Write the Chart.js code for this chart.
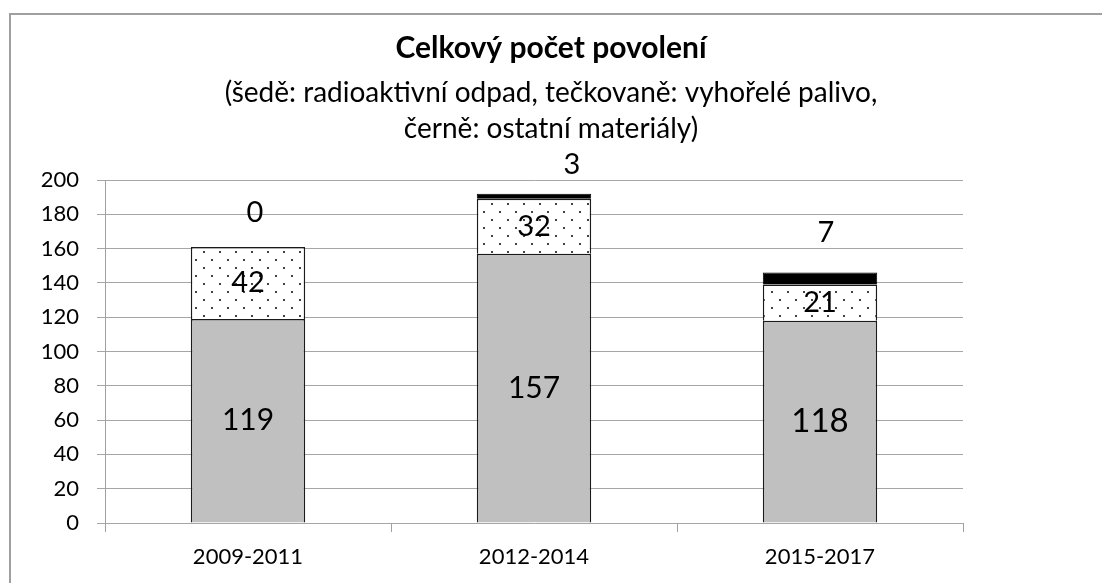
<!DOCTYPE html>
<html lang="cs">
<head>
  <meta charset="UTF-8">
  <title>Celkový počet povolení</title>
  <script src="https://cdn.jsdelivr.net/npm/chart.js"></script>
  <style>
    body {
      margin: 0;
      background-color: #fff;
    }
    canvas {
      display: block;
    }
  </style>
</head>
<body>
  <canvas id="permitChart" width="1102" height="583"></canvas>

  <script>
    // data
    const periods = ['2009-2011', '2012-2014', '2015-2017'];
    const radioactiveWaste = [119, 157, 118];   // šedě
    const spentFuel = [42, 32, 21];              // tečkovaně
    const otherMaterials = [0, 3, 7];            // černě
    const yTicks = [0, 20, 40, 60, 80, 100, 120, 140, 160, 180, 200];

    const titleText = 'Celkový počet povolení';
    const subtitleLines = [
      '(šedě: radioaktivní odpad, tečkovaně: vyhořelé palivo,',
      'černě: ostatní materiály)'
    ];

    // manual nudges for the labels above the stacks (as in the original)
    const topLabelShift = [[7, -34], [38, -29], [6, -40]];
    const grayLabelSize = [30, 30, 33];

    const FONT = 'Lato, "Open Sans", sans-serif';

    function makeDots() {
      const c = document.createElement('canvas');
      c.width = 16;
      c.height = 16;
      const g = c.getContext('2d');
      g.fillStyle = '#fff';
      g.fillRect(0, 0, 16, 16);
      g.fillStyle = '#444';
      g.fillRect(3, 3, 2, 2);
      g.fillRect(11, 11, 2, 2);
      return g.createPattern(c, 'repeat');
    }

    const framePlugin = {
      id: 'frame',
      beforeDraw(chart) {
        const ctx = chart.ctx;
        ctx.save();
        ctx.strokeStyle = '#a0a0a0';
        ctx.lineWidth = 2;
        ctx.beginPath();
        ctx.moveTo(10, chart.height);
        ctx.lineTo(10, 14);
        ctx.lineTo(chart.width, 14);
        ctx.stroke();
        ctx.restore();
      },
      afterDraw(chart) {
        const ctx = chart.ctx;
        const cx = chart.width / 2;
        ctx.save();
        ctx.fillStyle = '#000';
        ctx.textAlign = 'center';
        ctx.textBaseline = 'middle';
        ctx.font = 'bold 30px ' + FONT;
        ctx.fillText(titleText, cx, 48);
        ctx.font = '28px ' + FONT;
        ctx.fillText(subtitleLines[0], cx, 93);
        ctx.fillText(subtitleLines[1], cx, 129);
        ctx.restore();
      }
    };

    const valueLabels = {
      id: 'valueLabels',
      afterDatasetsDraw(chart) {
        const ctx = chart.ctx;
        ctx.save();
        ctx.fillStyle = '#000';
        ctx.textAlign = 'center';
        ctx.textBaseline = 'middle';
        chart.data.datasets.forEach((ds, i) => {
          const meta = chart.getDatasetMeta(i);
          meta.data.forEach((bar, j) => {
            const v = ds.data[j];
            if (i === 2) {
              ctx.font = '29px ' + FONT;
              ctx.fillText(v, bar.x + topLabelShift[j][0], bar.y + topLabelShift[j][1]);
            } else {
              ctx.font = (i === 0 ? grayLabelSize[j] : 29) + 'px ' + FONT;
              ctx.fillText(v, bar.x, (bar.y + bar.base) / 2);
            }
          });
        });
        ctx.restore();
      }
    };

    new Chart(document.getElementById('permitChart'), {
      type: 'bar',
      data: {
        labels: periods,
        datasets: [
          {
            label: 'radioaktivní odpad',
            data: radioactiveWaste,
            backgroundColor: '#c0c0c0',
            borderColor: '#1a1a1a',
            borderWidth: 1.5
          },
          {
            label: 'vyhořelé palivo',
            data: spentFuel,
            backgroundColor: makeDots(),
            borderColor: '#1a1a1a',
            borderWidth: 1.5
          },
          {
            label: 'ostatní materiály',
            data: otherMaterials,
            backgroundColor: '#000',
            borderColor: '#000',
            borderWidth: 1
          }
        ]
      },
      options: {
        responsive: false,
        animation: false,
        barPercentage: 0.5,
        categoryPercentage: 0.8,
        layout: {
          padding: { left: 0, right: 139, top: 180, bottom: 0 }
        },
        plugins: {
          legend: { display: false },
          tooltip: { enabled: false }
        },
        scales: {
          x: {
            stacked: true,
            afterFit(scale) { scale.height = 60; },
            grid: {
              offset: true,
              drawOnChartArea: false,
              tickLength: 9,
              color: '#a0a0a0'
            },
            border: { display: false },
            ticks: {
              color: '#000',
              padding: 12,
              font: { family: FONT, size: 22 }
            }
          },
          y: {
            stacked: true,
            min: 0,
            max: 200,
            afterFit(scale) { scale.width = 105; },
            afterBuildTicks(scale) {
              scale.ticks = yTicks.map(v => ({ value: v }));
            },
            grid: {
              color: '#a6a6a6',
              tickLength: 8
            },
            border: { color: '#a0a0a0' },
            ticks: {
              color: '#000',
              padding: 18,
              font: { family: FONT, size: 22 }
            }
          }
        }
      },
      plugins: [framePlugin, valueLabels]
    });
  </script>
</body>
</html>
